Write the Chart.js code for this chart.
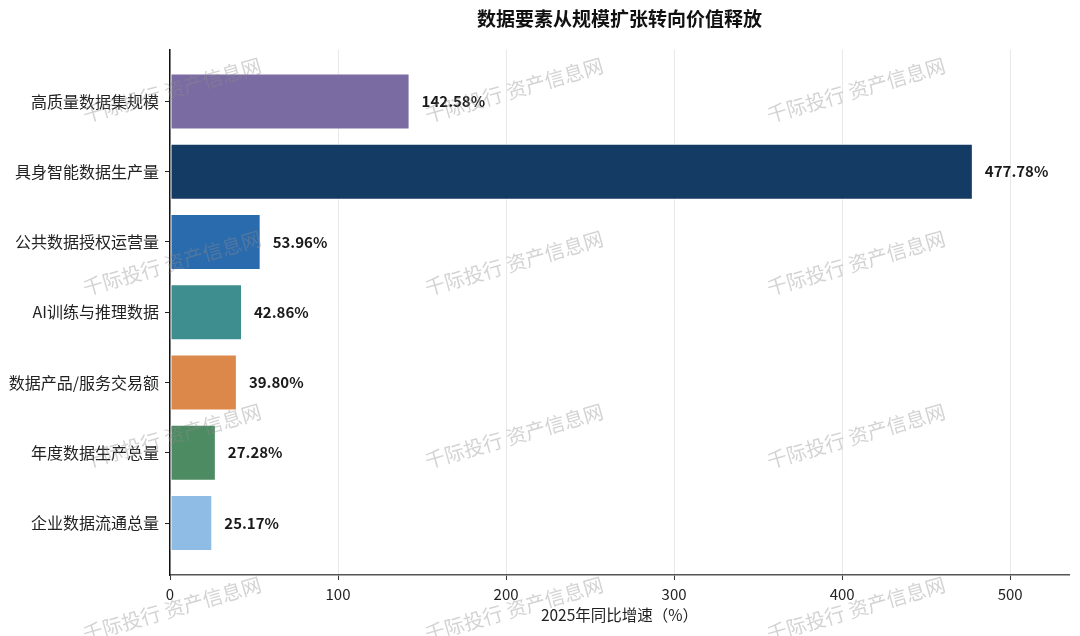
<!DOCTYPE html>
<html>
<head>
<meta charset="utf-8">
<script src="https://cdn.jsdelivr.net/npm/chart.js@4.4.1/dist/chart.umd.min.js"></script>
<style>
  html, body { margin: 0; padding: 0; background: #fff; }
  #wrap { width: 1080px; height: 636px; }
</style>
</head>
<body>
<div id="wrap"><canvas id="barChart"></canvas></div>
<script>
// datos
var categorias = ['高质量数据集规模', '具身智能数据生产量', '公共数据授权运营量', 'AI训练与推理数据', '数据产品/服务交易额', '年度数据生产总量', '企业数据流通总量'];
var crecimiento = [142.58, 477.78, 53.96, 42.86, 39.80, 27.28, 25.17];
var colores = ['#7a6ba2', '#133b63', '#2a6bae', '#3f8e8f', '#dc884a', '#4d8b63', '#8ebce5'];
var ticksX = [0, 100, 200, 300, 400, 500];
var titulo = '数据要素从规模扩张转向价值释放';
var tituloX = '2025年同比增速（%）';
var marca = '千际投行 资产信息网';

Chart.defaults.font.family = '"Noto Sans CJK SC", "Noto Sans", sans-serif';
Chart.defaults.color = '#222';

var puntos = [];
for (var i in crecimiento) {
    puntos.push({ x: crecimiento[i], y: Number(i) });
}

// titulo centrado sobre el area del grafico
var pluginTitulo = {
    id: 'tituloCentrado',
    afterDraw: function(chart) {
        var ctx = chart.ctx;
        var area = chart.chartArea;
        ctx.save();
        ctx.font = 'bold 19px "Noto Sans CJK SC", sans-serif';
        ctx.fillStyle = '#111';
        ctx.textAlign = 'center';
        ctx.textBaseline = 'middle';
        ctx.fillText(titulo, (area.left + area.right) / 2, 19);
        ctx.restore();
    }
};

// etiquetas de valor al final de cada barra
var pluginValores = {
    id: 'valores',
    afterDatasetsDraw: function(chart) {
        var ctx = chart.ctx;
        var meta = chart.getDatasetMeta(0);
        ctx.save();
        ctx.font = 'bold 15px "Noto Sans CJK SC", sans-serif';
        ctx.fillStyle = '#1a1a1a';
        ctx.textAlign = 'left';
        ctx.textBaseline = 'middle';
        meta.data.forEach(function(bar, j) {
            ctx.fillText(crecimiento[j].toFixed(2) + '%', bar.x + 12, bar.y);
        });
        ctx.restore();
    }
};

// marca de agua
var pluginMarca = {
    id: 'marcaAgua',
    afterDraw: function(chart) {
        var ctx = chart.ctx;
        var cols = [172, 514, 856];
        var filas = [90, 263, 436, 609];
        ctx.save();
        ctx.font = '20px "Noto Sans CJK SC", sans-serif';
        ctx.fillStyle = 'rgba(140,140,140,0.38)';
        ctx.textAlign = 'center';
        ctx.textBaseline = 'middle';
        filas.forEach(function(fy) {
            cols.forEach(function(cx) {
                ctx.save();
                ctx.translate(cx, fy);
                ctx.rotate(-16 * Math.PI / 180);
                ctx.fillText(marca, 0, 0);
                ctx.restore();
            });
        });
        ctx.restore();
    }
};

var grafico = new Chart(document.getElementById('barChart'), {
    type: 'bar',
    data: {
        datasets: [{
            data: puntos,
            backgroundColor: colores,
            borderColor: 'rgba(255,255,255,0.55)',
            borderWidth: 1,
            borderSkipped: false,
            barPercentage: 0.8,
            categoryPercentage: 1.0
        }]
    },
    plugins: [pluginTitulo, pluginValores, pluginMarca],
    options: {
        indexAxis: 'y',
        responsive: true,
        maintainAspectRatio: false,
        animation: false,
        layout: { padding: { left: 0, right: 11, top: 49.5, bottom: 0 } },
        plugins: {
            legend: { display: false },
            title: { display: false },
            tooltip: { enabled: false }
        },
        scales: {
            x: {
                type: 'linear',
                position: 'bottom',
                min: 0,
                max: 535,
                z: 1,
                afterBuildTicks: function(s) {
                    s.ticks = ticksX.map(function(v) { return { value: v }; });
                },
                ticks: { font: { size: 15 }, color: '#222', padding: 5 },
                grid: { color: 'rgba(180,180,180,0.3)', tickColor: '#333', tickLength: 5, lineWidth: 1 },
                border: { color: '#555', width: 1.5 },
                title: {
                    display: true,
                    text: tituloX,
                    font: { size: 15.5 },
                    color: '#222',
                    padding: { top: 0, bottom: 12 }
                },
                afterFit: function(s) { s.height = 61; }
            },
            y: {
                type: 'linear',
                reverse: true,
                offset: false,
                min: -0.74,
                max: 6.74,
                afterBuildTicks: function(s) {
                    s.ticks = categorias.map(function(c, k) { return { value: k }; });
                },
                ticks: {
                    autoSkip: false,
                    font: { size: 16 },
                    color: '#222',
                    padding: 6,
                    callback: function(v) { return categorias[v]; }
                },
                grid: { offset: false, drawOnChartArea: false, tickColor: '#222', tickLength: 5 },
                border: { color: '#111', width: 1.5 },
                afterFit: function(s) { s.width = 170; }
            }
        }
    }
});
</script>
</body>
</html>
